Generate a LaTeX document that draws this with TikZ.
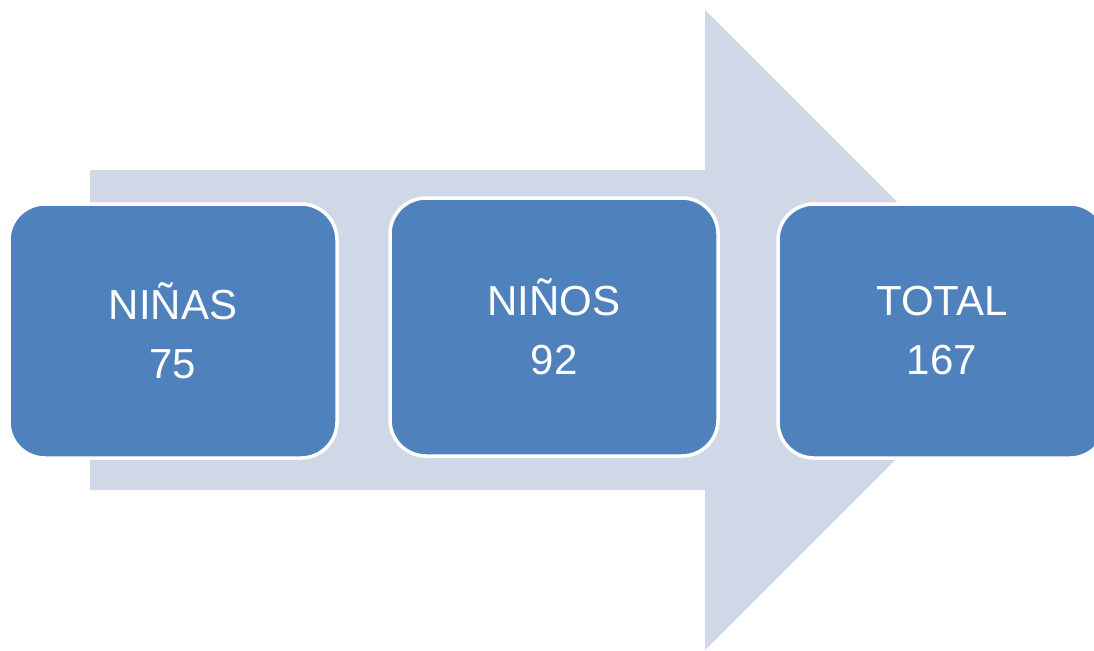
\documentclass[tikz,border=0pt]{standalone}
\usepackage{fontspec}
\setmainfont{Liberation Sans}
\usetikzlibrary{positioning}
\definecolor{boxblue}{HTML}{4F81BD}
\definecolor{arrowgray}{HTML}{D0D8E8}

\begin{document}
\begin{tikzpicture}[x=1pt, y=-1pt,
    stage/.style={draw=white, line width=3.5pt, fill=boxblue, rounded corners=36pt,
      minimum width=328pt, minimum height=254pt, inner sep=0pt,
      text=white, align=center, font=\fontsize{42}{59}\selectfont}]
    % Page frame
    \clip (0,0) rectangle (1094,650);
    \fill[white] (0,0) rectangle (1094,650);
    
    % Big arrow behind the stages
    \fill[arrowgray] (90,170) -- (705,170) -- (705,10) -- (1025,330)
        -- (705,650) -- (705,490) -- (90,490) -- cycle;
    
    % Stages
    \node[stage] (ninas) at (173,331) {NIÑAS\\75};
    \node[stage, minimum height=258pt] (ninos) at (554,327) {NIÑOS\\92};
    \node[stage] (total) at (942,331) {TOTAL\\167};
\end{tikzpicture}
\end{document}
